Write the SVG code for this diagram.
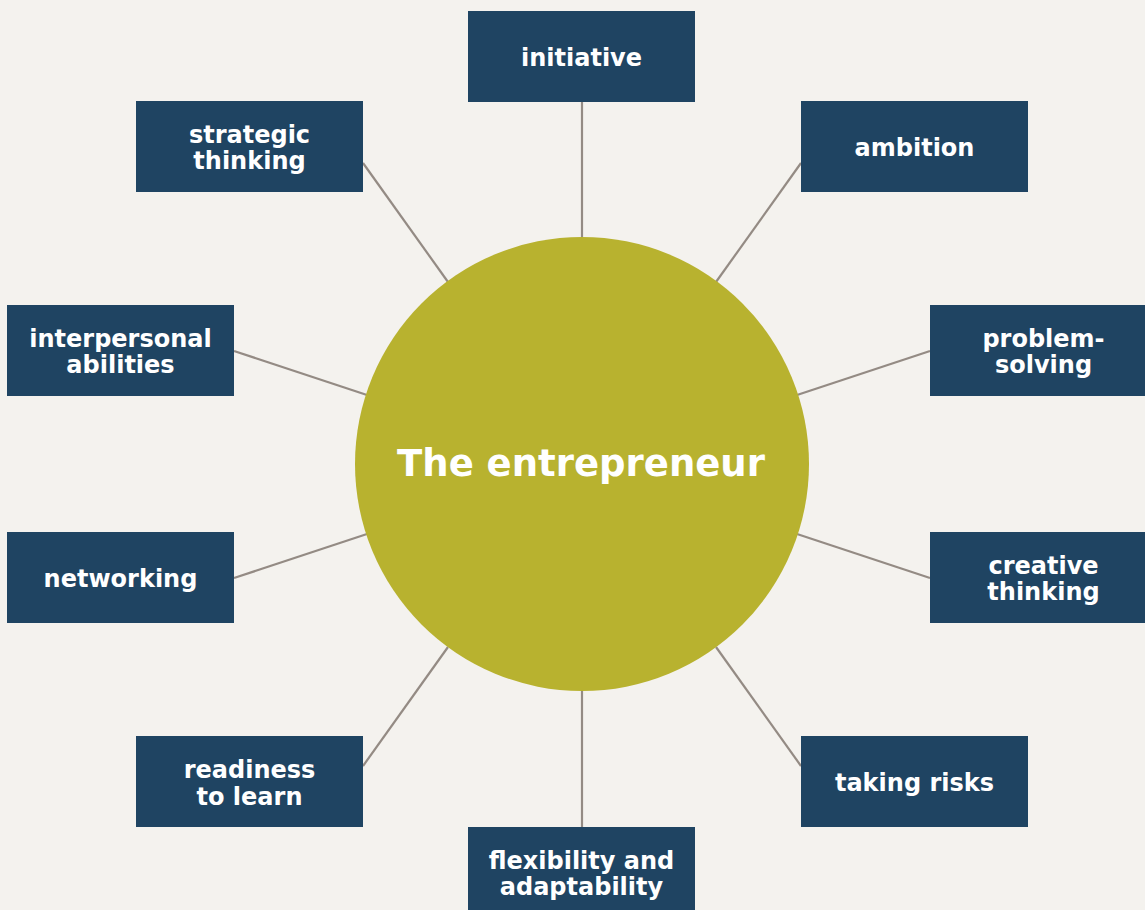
<svg xmlns="http://www.w3.org/2000/svg" width="1145" height="910" viewBox="0 0 1145 910">
  <style>
    .box { fill: #1f4462; }
    .lbl { font-family: "DejaVu Sans", Verdana, sans-serif; font-weight: bold; font-size: 24px; fill: #ffffff; text-anchor: middle; }
    .title { font-family: "DejaVu Sans", Verdana, sans-serif; font-weight: bold; font-size: 37px; fill: #ffffff; text-anchor: middle; }
    .edge { stroke: #948b84; stroke-width: 2.2; fill: none; }
  </style>
  <rect width="1145" height="910" fill="#f4f2ee"/>

  <!-- spokes -->
  <g id="connectors">
    <line class="edge" x1="582" y1="102" x2="582" y2="238"/>
    <line class="edge" x1="801" y1="163" x2="716" y2="282"/>
    <line class="edge" x1="363" y1="163" x2="448" y2="282"/>
    <line class="edge" x1="234" y1="351" x2="367" y2="395"/>
    <line class="edge" x1="930" y1="351" x2="797" y2="395"/>
    <line class="edge" x1="234" y1="578" x2="367" y2="534"/>
    <line class="edge" x1="930" y1="578" x2="797" y2="534"/>
    <line class="edge" x1="363" y1="766" x2="448" y2="647"/>
    <line class="edge" x1="801" y1="766" x2="716" y2="647"/>
    <line class="edge" x1="582" y1="827" x2="582" y2="690"/>
  </g>

  <g id="center">
    <circle cx="582" cy="464" r="227" fill="#b8b22f"/>
    <text class="title" x="581" y="476">The entrepreneur</text>
  </g>

  <g id="initiative">
    <rect class="box" x="468" y="11" width="227" height="91"/>
    <text class="lbl" x="581.5" y="66">initiative</text>
  </g>
  <g id="ambition">
    <rect class="box" x="801" y="101" width="227" height="91"/>
    <text class="lbl" x="914.5" y="156">ambition</text>
  </g>
  <g id="strategic-thinking">
    <rect class="box" x="136" y="101" width="227" height="91"/>
    <text class="lbl" x="249.5" y="143">strategic</text>
    <text class="lbl" x="249.5" y="169">thinking</text>
  </g>
  <g id="interpersonal-abilities">
    <rect class="box" x="7" y="305" width="227" height="91"/>
    <text class="lbl" x="120.5" y="347">interpersonal</text>
    <text class="lbl" x="120.5" y="373">abilities</text>
  </g>
  <g id="problem-solving">
    <rect class="box" x="930" y="305" width="227" height="91"/>
    <text class="lbl" x="1043.5" y="347">problem-</text>
    <text class="lbl" x="1043.5" y="373">solving</text>
  </g>
  <g id="networking">
    <rect class="box" x="7" y="532" width="227" height="91"/>
    <text class="lbl" x="120.5" y="587">networking</text>
  </g>
  <g id="creative-thinking">
    <rect class="box" x="930" y="532" width="227" height="91"/>
    <text class="lbl" x="1043.5" y="574">creative</text>
    <text class="lbl" x="1043.5" y="600">thinking</text>
  </g>
  <g id="readiness-to-learn">
    <rect class="box" x="136" y="736" width="227" height="91"/>
    <text class="lbl" x="249.5" y="778">readiness</text>
    <text class="lbl" x="249.5" y="805">to learn</text>
  </g>
  <g id="taking-risks">
    <rect class="box" x="801" y="736" width="227" height="91"/>
    <text class="lbl" x="914.5" y="791">taking risks</text>
  </g>
  <g id="flexibility-and-adaptability">
    <rect class="box" x="468" y="827" width="227" height="91"/>
    <text class="lbl" x="581.5" y="869">flexibility and</text>
    <text class="lbl" x="581.5" y="895">adaptability</text>
  </g>
</svg>
